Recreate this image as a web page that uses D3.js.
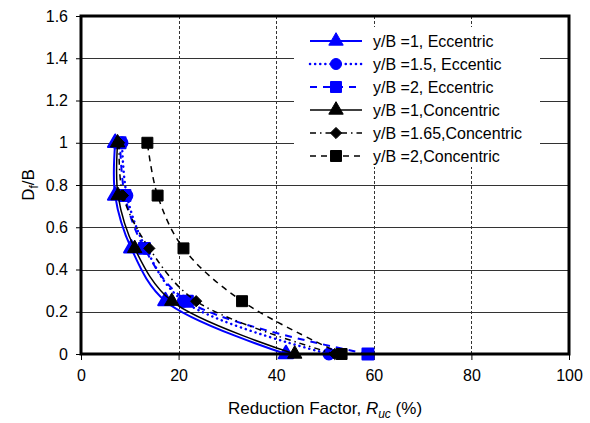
<!DOCTYPE html>
<html>
<head>
<meta charset="utf-8">
<script src="https://cdn.jsdelivr.net/npm/d3@7"></script>
<style>
  body { margin: 0; background: #fff; }
  text { font-family: "Liberation Sans", Arial, sans-serif; fill: #000; }
</style>
</head>
<body>
<script>
// data
const depthRatio = [0, 0.25, 0.5, 0.75, 1];
const eccentric1 = [42, 17.3, 10.3, 7, 7];
const eccentric15 = [50.8, 21, 13.3, 9.4, 8.4];
const eccentric2 = [58.8, 21.8, 13, 9, 8];
const concentric1 = [43.8, 18.6, 11, 7.6, 7.5];
const concentric165 = [52, 23.6, 14, 8.6, 7.8];
const concentric2 = [53.4, 33, 21, 15.7, 13.6];
const seriesNames = ["y/B =1, Eccentric", "y/B =1.5, Eccentic", "y/B =2, Eccentric",
    "y/B =1,Concentric", "y/B =1.65,Concentric", "y/B =2,Concentric"];
const xTicks = [0, 20, 40, 60, 80, 100];
const yTicks = [0, 0.2, 0.4, 0.6, 0.8, 1, 1.2, 1.4, 1.6];

const styles = [
    {values: eccentric1, color: "#0000ff", width: 2, dash: null, marker: "triangle", outline: 2},
    {values: eccentric15, color: "#0000ff", width: 2.5, dash: "0.1,5", cap: "round", marker: "circle", outline: 2},
    {values: eccentric2, color: "#0000ff", width: 2, dash: "7,6", marker: "square", outline: 2},
    {values: concentric1, color: "#000", width: 1.5, dash: null, marker: "triangle", outline: 1},
    {values: concentric165, color: "#000", width: 1.5, dash: "6,4,1.5,4", marker: "diamond", outline: 1},
    {values: concentric2, color: "#000", width: 1.5, dash: "6,5", marker: "square", outline: 1}
];

const W = 590, H = 423;
const margin = {top: 16, right: 21, bottom: 69, left: 81};
const width = W - margin.left - margin.right,
    height = H - margin.top - margin.bottom;

const x = d3.scaleLinear().domain([0, 100]).range([0, width]);
const y = d3.scaleLinear().domain([0, 1.6]).range([height, 0]);

const svg = d3.select("body").append("svg")
    .attr("width", W)
    .attr("height", H);
const g = svg.append("g")
    .attr("transform", "translate(" + margin.left + "," + margin.top + ")");

// grid
g.append("g")
    .selectAll("line")
    .data(yTicks.slice(1, -1))
    .enter().append("line")
    .attr("x1", 0).attr("x2", width)
    .attr("y1", d => Math.round(y(d)) + 0.5).attr("y2", d => Math.round(y(d)) + 0.5)
    .attr("stroke", "#333").attr("stroke-width", 1);
g.append("g")
    .selectAll("line")
    .data(xTicks.slice(1, -1))
    .enter().append("line")
    .attr("x1", d => Math.round(x(d)) + 0.5).attr("x2", d => Math.round(x(d)) + 0.5)
    .attr("y1", 0).attr("y2", height)
    .attr("stroke", "#333").attr("stroke-width", 1).attr("stroke-dasharray", "3,2");

// axes
const yAxis = g.append("g")
    .call(d3.axisLeft(y).tickValues(yTicks).tickSize(5).tickPadding(8).tickFormat(d3.format("~g")));
const xAxis = g.append("g")
    .attr("transform", "translate(0," + height + ")")
    .call(d3.axisBottom(x).tickValues(xTicks).tickSize(6).tickPadding(10));
[yAxis, xAxis].forEach(a => {
    a.select(".domain").remove();
    a.selectAll("text").style("font-size", "16px");
    a.selectAll("line").attr("stroke", "#000");
});

// legend background covers the grid
const legend = g.append("g").attr("transform", "translate(213,11)");
legend.append("rect")
    .attr("x", 0).attr("y", 0).attr("width", 246).attr("height", 140)
    .attr("fill", "#fff");

// marker shapes
function marker(sel, type, color, outline) {
    const sym = {
        triangle: [d3.symbolTriangle, 90],
        circle: [d3.symbolCircle, 95],
        square: [d3.symbolSquare, 120],
        diamond: [d3.symbolDiamond2, 80]
    }[type];
    sel.attr("d", d3.symbol().type(sym[0]).size(sym[1])())
        .attr("fill", color)
        .attr("stroke", color)
        .attr("stroke-linejoin", "round")
        .attr("stroke-width", outline);
}

const line = d3.line()
    .x(d => x(d[0]))
    .y(d => y(d[1]))
    .curve(d3.curveCatmullRom.alpha(0.5));

const plot = g.append("g");
styles.forEach(s => {
    const pts = s.values.map((v, i) => [v, depthRatio[i]]);
    plot.append("path")
        .attr("d", line(pts))
        .attr("fill", "none")
        .attr("stroke", s.color)
        .attr("stroke-width", s.width)
        .attr("stroke-linecap", s.cap || "butt")
        .attr("stroke-dasharray", s.dash);
    plot.selectAll(null)
        .data(pts)
        .enter().append("path")
        .attr("transform", d => "translate(" + x(d[0]) + "," + y(d[1]) + ")")
        .call(marker, s.marker, s.color, s.outline);
});

// legend entries
styles.forEach((s, i) => {
    const row = legend.append("g").attr("transform", "translate(16," + (14 + i * 23) + ")");
    row.append("line")
        .attr("x1", 0).attr("x2", 52).attr("y1", 0).attr("y2", 0)
        .attr("stroke", s.color)
        .attr("stroke-width", s.width)
        .attr("stroke-linecap", s.cap || "butt")
        .attr("stroke-dasharray", s.dash);
    row.append("path")
        .attr("transform", "translate(26,0)")
        .call(marker, s.marker, s.color, 1);
    row.append("text")
        .attr("x", 63).attr("y", 5.5)
        .style("font-size", "16px")
        .text(seriesNames[i]);
});

// frame
g.append("rect")
    .attr("x", 0).attr("y", 0).attr("width", width).attr("height", height)
    .attr("fill", "none").attr("stroke", "#000").attr("stroke-width", 3);

// axis titles
const xt = svg.append("text")
    .attr("x", margin.left + width / 2).attr("y", 414)
    .attr("text-anchor", "middle")
    .style("font-size", "17px");
xt.append("tspan").text("Reduction Factor, ");
xt.append("tspan").style("font-style", "italic").text("R");
xt.append("tspan").style("font-style", "italic").style("font-size", "12px").attr("dy", 4).text("uc");
xt.append("tspan").attr("dy", -4).text(" (%)");

const yt = svg.append("text")
    .attr("transform", "translate(34," + (margin.top + y(0.8)) + ") rotate(-90)")
    .attr("text-anchor", "middle")
    .style("font-size", "17px");
yt.append("tspan").text("D");
yt.append("tspan").style("font-size", "12px").attr("dy", 4).text("f");
yt.append("tspan").attr("dy", -4).text("/B");
</script>
</body>
</html>
